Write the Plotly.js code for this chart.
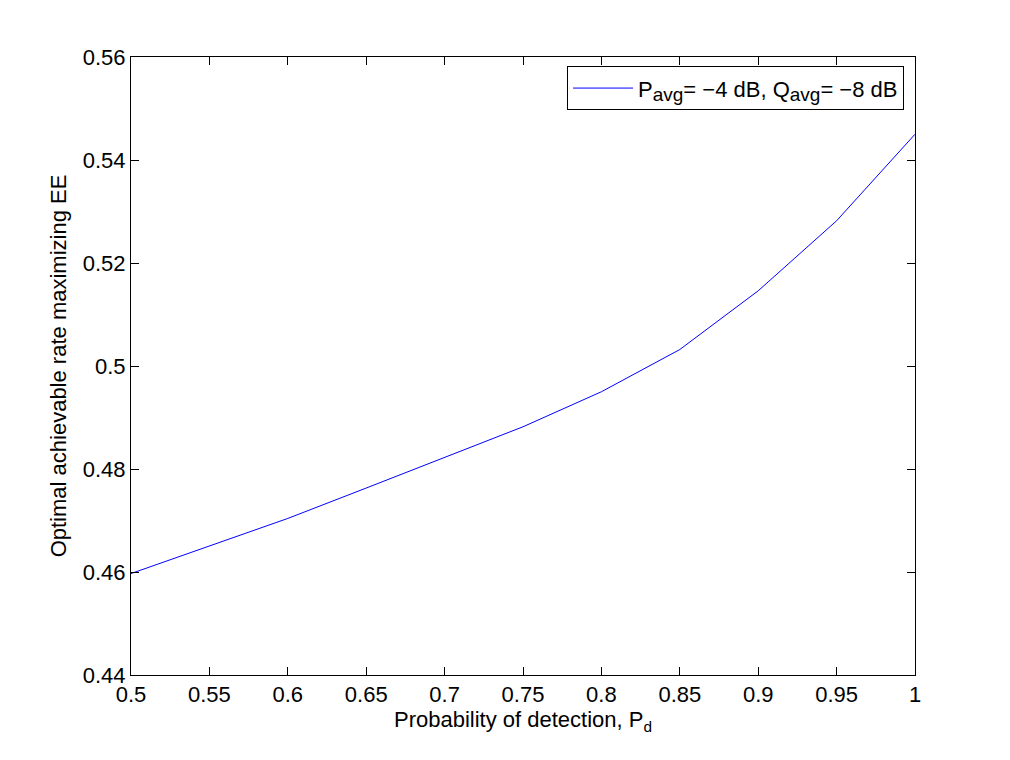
<!DOCTYPE html>
<html>
<head>
<meta charset="utf-8">
<script src="https://cdn.plot.ly/plotly-3.0.1.min.js"></script>
<style>body{margin:0;padding:0;background:#fff}#chart{width:1010px;height:760px}</style>
</head>
<body>
<div id="chart"></div>
<script>
const pd = [0.5, 0.55, 0.6, 0.65, 0.7, 0.75, 0.8, 0.85, 0.9, 0.95, 1.0];
const rate = [0.4597, 0.4650, 0.4704, 0.4763, 0.4823, 0.4882, 0.4950, 0.5032, 0.5146, 0.5282, 0.5450];
const seriesName = 'P<sub><span style="font-size:19px">avg</span></sub>= \u22124 dB, Q<sub><span style="font-size:19px">avg</span></sub>= \u22128 dB';
const xTicks = [0.5, 0.55, 0.6, 0.65, 0.7, 0.75, 0.8, 0.85, 0.9, 0.95, 1];
const xTickText = ['0.5', '0.55', '0.6', '0.65', '0.7', '0.75', '0.8', '0.85', '0.9', '0.95', '1'];
const yTicks = [0.44, 0.46, 0.48, 0.5, 0.52, 0.54, 0.56];
const yTickText = ['0.44', '0.46', '0.48', '0.5', '0.52', '0.54', '0.56'];

const font = {family: 'Liberation Sans, Arial, sans-serif', size: 22, color: '#000'};
const axisCommon = {
  showgrid: false, zeroline: false, showline: true, linecolor: '#000', linewidth: 1,
  mirror: 'allticks', ticks: 'inside', ticklen: 8, tickcolor: '#000', tickwidth: 1,
  tickfont: font, tickmode: 'array'
};
Plotly.newPlot('chart', [{
  x: pd, y: rate, type: 'scatter', mode: 'lines', name: seriesName,
  line: {color: '#0000ff', width: 1}
}], {
  width: 1010, height: 760,
  margin: {l: 131, r: 95, t: 57, b: 85},
  paper_bgcolor: '#fff', plot_bgcolor: '#fff',
  font: font,
  showlegend: true,
  legend: {
    x: 0.986, y: 0.985, xanchor: 'right', yanchor: 'top', itemwidth: 60,
    bgcolor: '#fff', bordercolor: '#000', borderwidth: 1, font: font
  },
  xaxis: Object.assign({}, axisCommon, {
    range: [0.5, 1], tickvals: xTicks, ticktext: xTickText,
    title: {text: 'Probability of detection, P<sub>d</sub>', font: font, standoff: 2}
  }),
  yaxis: Object.assign({}, axisCommon, {
    range: [0.44, 0.56], tickvals: yTicks, ticktext: yTickText,
    title: {text: 'Optimal achievable rate maximizing EE', font: font, standoff: 10}
  })
}, {displayModeBar: false, staticPlot: true});
</script>
</body>
</html>
